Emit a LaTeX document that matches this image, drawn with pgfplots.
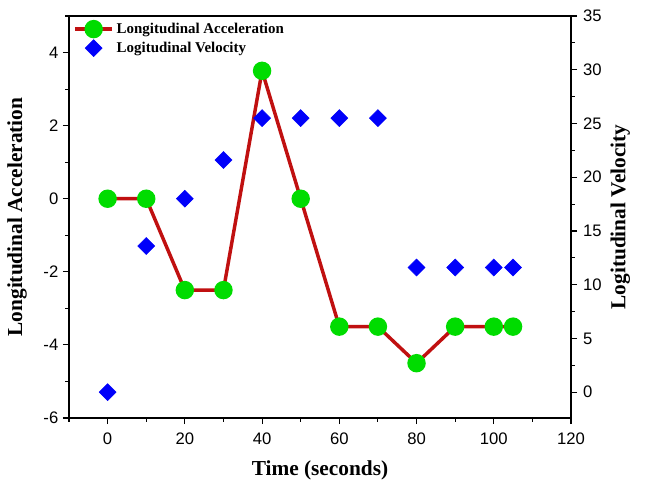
\documentclass[border=0pt]{standalone}
\usepackage{fontspec}
\setmainfont{Liberation Serif}
\newfontfamily\arial{Liberation Sans}
\usepackage{pgfplots}
\pgfplotsset{compat=1.18}

\definecolor{accred}{RGB}{192,16,16}
\definecolor{accgreen}{RGB}{0,220,0}
\definecolor{velblue}{RGB}{0,0,250}

\pgfplotstableread{
t a
0 0
10 0
20 -2.5
30 -2.5
40 3.5
50 0
60 -3.5
70 -3.5
80 -4.5
90 -3.5
100 -3.5
105 -3.5
}\accel

\pgfplotstableread{
t v
0 0
10 13.6
20 18.0
30 21.6
40 25.5
50 25.5
60 25.5
70 25.5
80 11.6
90 11.6
100 11.6
105 11.6
}\veloc

\newcommand{\labfont}{\bfseries\fontsize{16}{18}\selectfont}

\begin{document}
\begin{tikzpicture}
\pgfplotsset{
  every axis/.append style={
    scale only axis, width=376.5pt, height=301.5pt,
    xmin=-10, xmax=120,
    axis line style={line width=0.8pt},
    tick style={black, line width=0.8pt},
    major tick length=4.5pt, minor tick length=2.8pt,
    tick align=outside,
    /pgf/number format/assume math mode=true,
    ticklabel style={font=\arial\fontsize{12.5}{14}\selectfont},
  }
}
\begin{axis}[
  name=main,
  axis y line*=left, axis x line*=bottom,
  ymin=-6, ymax=5,
  ytick={-6,-4,...,4}, minor ytick={-5,-3,...,5},
  xtick={0,20,...,120}, minor xtick={-10,10,...,110},
  xtick pos=bottom, ytick pos=left,
  xticklabel style={yshift=-3pt},
  xlabel={Time (seconds)},
  ylabel={Longitudinal Acceleration},
  every axis x label/.style={at={(axis description cs:0.5,0)}, yshift=-39pt,
    anchor=center, font=\labfont},
  every axis y label/.style={at={(axis description cs:0,0.5)}, xshift=-39pt,
    rotate=90, anchor=center, font=\labfont},
  legend style={draw=none, fill=none, at={(0,1)}, anchor=north west,
    xshift=2pt, yshift=-1pt,
    font=\bfseries\fontsize{11.2}{13}\selectfont, row sep=1pt,
    inner xsep=1pt, inner ysep=2pt},
  legend cell align=left,
  legend image code/.code={\draw[mark repeat=2, mark phase=2]
    plot coordinates {(0pt,0pt) (14pt,0pt) (28pt,0pt)};},
]
\draw[line width=0.8pt] (rel axis cs:0,1) -- (rel axis cs:1,1);
\addplot[accred, line width=2.6pt, mark=*, mark size=5.6pt,
  mark options={accgreen, fill=accgreen, draw=accgreen}] table[x=t, y=a] {\accel};
\addlegendentry{Longitudinal Acceleration}
\addlegendimage{only marks, mark=square*, mark size=4.5pt, velblue,
  mark options={fill=velblue, draw=velblue, rotate=45}}
\addlegendentry{Logitudinal Velocity}
\end{axis}
\begin{axis}[
  axis y line*=right, axis x line=none,
  ymin=-2.4, ymax=35,
  ytick={0,5,...,35}, minor ytick={2.5,7.5,...,32.5},
  yticklabel style={xshift=1pt},
  ylabel={Logitudinal Velocity},
  every axis y label/.style={at={(axis description cs:1,0.5)}, xshift=37pt,
    rotate=90, anchor=center, font=\labfont},
]
\addplot[only marks, mark=square*, mark size=4.5pt, velblue,
  mark options={fill=velblue, draw=velblue, rotate=45}] table[x=t, y=v] {\veloc};
\end{axis}
\useasboundingbox ([xshift=-51.75pt, yshift=-51pt]main.south west)
  rectangle ([xshift=56.25pt, yshift=12pt]main.north east);
\end{tikzpicture}
\end{document}
